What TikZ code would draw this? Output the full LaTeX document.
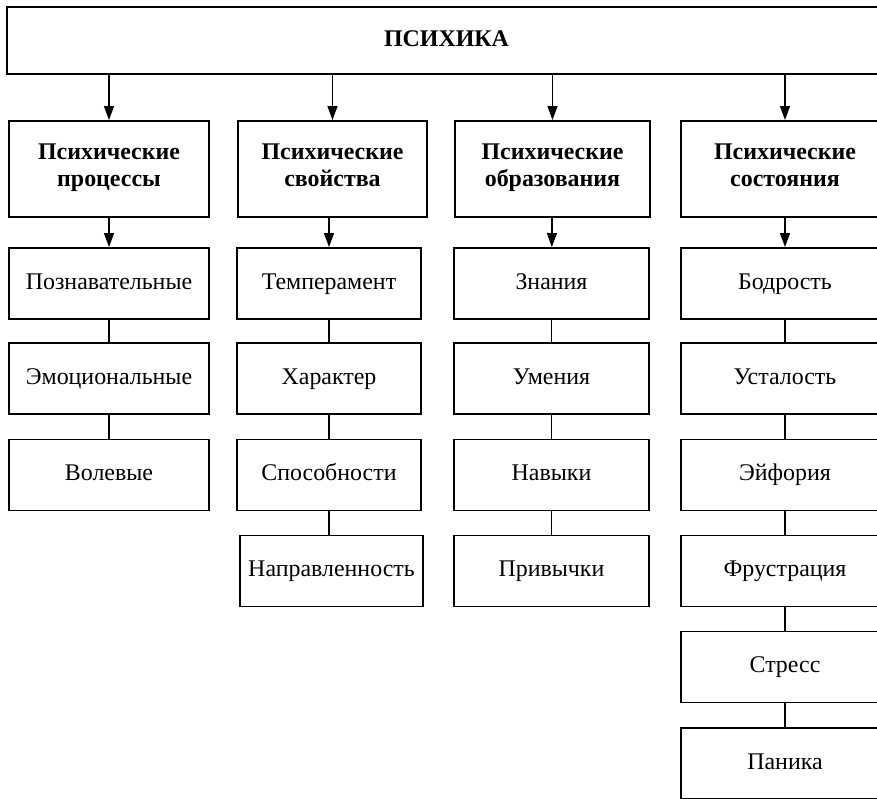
\documentclass[tikz,border=0pt]{standalone}
\usepackage{fontspec}
\setmainfont{Liberation Serif}
\usetikzlibrary{arrows.meta}

\newcommand{\twoline}[2]{#1\\#2\strut}

\tikzset{
  box/.style={draw,line width=1.3pt,align=center,inner sep=0pt,
    font=\fontsize{17}{19.5}\selectfont},
  head/.style={box,font=\fontsize{17}{19.5}\selectfont\bfseries,minimum height=2.4cm},
  item/.style={box,minimum height=1.775cm,text height=12pt,text depth=4pt},
  arr/.style={line width=1.3pt,-{Triangle[length=10pt,width=7pt]}},
  link/.style={line width=1.3pt}
}

\begin{document}
\begin{tikzpicture}[x=0.025cm,y=-0.025cm]
\clip (0,0) rectangle (877,798);

\node[box,font=\fontsize{17}{19.5}\selectfont\bfseries,minimum width=21.975cm,minimum height=1.675cm,text height=12pt,text depth=4pt] (psy) at (446.5,40.5) {ПСИХИКА};

% second level
\node[head,minimum width=5cm]     (proc) at (109,169)   {\twoline{Психические}{процессы}};
\node[head,minimum width=4.725cm] (prop) at (332.5,169) {\twoline{Психические}{свойства}};
\node[head,minimum width=4.875cm] (form) at (552.5,169) {\twoline{Психические}{образования}};
\node[head,minimum width=5.2cm]   (stat) at (785,169)   {\twoline{Психические}{состояния}};

% processes
\node[item,minimum width=5cm] (cogn) at (109,283.5) {Познавательные};
\node[item,minimum width=5cm] (emot) at (109,378.5) {Эмоциональные};
\node[item,minimum width=5cm] (will) at (109,475)   {Волевые};

% properties
\node[item,minimum width=4.6cm]   (temp) at (329,283.5) {Темперамент};
\node[item,minimum width=4.6cm]   (char) at (329,378.5) {Характер};
\node[item,minimum width=4.6cm]   (abil) at (329,475)   {Способности};
\node[item,minimum width=4.575cm] (orie) at (331.5,571) {Направленность};

% formations
\node[item,minimum width=4.875cm] (know) at (551.5,283.5) {Знания};
\node[item,minimum width=4.875cm] (abl)  at (551.5,378.5) {Умения};
\node[item,minimum width=4.875cm] (skil) at (551.5,475)   {Навыки};
\node[item,minimum width=4.875cm] (habi) at (551.5,571)   {Привычки};

% states
\node[item,minimum width=5.2cm] (vigo) at (785,283.5) {Бодрость};
\node[item,minimum width=5.2cm] (fati) at (785,378.5) {Усталость};
\node[item,minimum width=5.2cm] (euph) at (785,475)   {Эйфория};
\node[item,minimum width=5.2cm] (frus) at (785,571)   {Фрустрация};
\node[item,minimum width=5.2cm] (stre) at (785,667)   {Стресс};
\node[item,minimum width=5.2cm] (pani) at (785,763.5) {Паника};

\path[arr]
(psy.south -| proc) edge (proc)
(psy.south -| prop) edge (prop)
(psy.south -| form) edge (form)
(psy.south -| stat) edge (stat)
(proc) edge (cogn)
(prop.south -| temp) edge (temp)
(form) edge (know)
(stat) edge (vigo);
\path[link]
(cogn) edge (emot) (emot) edge (will)
(temp) edge (char) (char) edge (abil) (abil.south) edge (abil.south |- orie.north)
(know) edge (abl) (abl) edge (skil) (skil) edge (habi)
(vigo) edge (fati) (fati) edge (euph) (euph) edge (frus) (frus) edge (stre) (stre) edge (pani);
\end{tikzpicture}
\end{document}
